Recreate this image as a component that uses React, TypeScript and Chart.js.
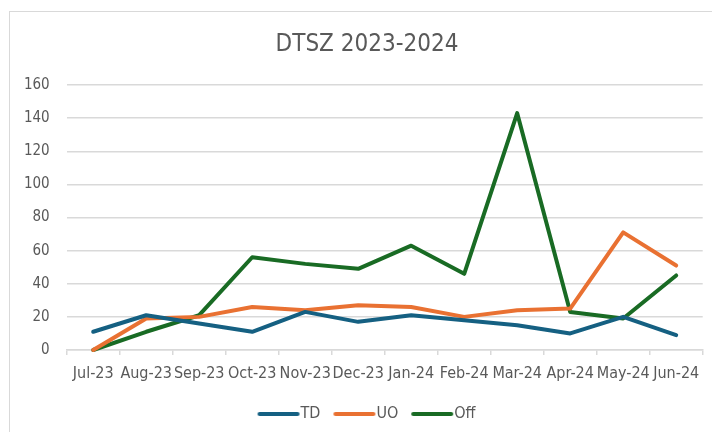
import React, { useEffect, useRef } from "react";
import { Chart, registerables } from "chart.js";

Chart.register(...registerables);

const months = ["Jul-23", "Aug-23", "Sep-23", "Oct-23", "Nov-23", "Dec-23", "Jan-24", "Feb-24", "Mar-24", "Apr-24", "May-24", "Jun-24"];
const td = [11, 21, 16, 11, 23, 17, 21, 18, 15, 10, 20, 9];
const uo = [0, 19, 20, 26, 24, 27, 26, 20, 24, 25, 71, 51];
const off = [0, 11, 21, 56, 52, 49, 63, 46, 143, 23, 19, 45];
const yTicks = [0, 20, 40, 60, 80, 100, 120, 140, 160];

const FONT = "'Liberation Sans Narrow', 'DejaVu Sans Condensed', 'Roboto', sans-serif";
const TXT = "#595959";
const GRID = "#d9d9d9";

// legend swatch: a thick round-capped line, placed so the label text follows it closely
function swatch(color: string): HTMLCanvasElement {
  const c = document.createElement("canvas");
  c.width = 84;
  c.height = 8;
  const g = c.getContext("2d")!;
  g.strokeStyle = color;
  g.lineWidth = 4;
  g.lineCap = "round";
  g.beginPath();
  g.moveTo(26, 4);
  g.lineTo(64, 4);
  g.stroke();
  return c;
}

export default function App() {
  const ref = useRef<HTMLCanvasElement | null>(null);
  useEffect(() => {
    if (!ref.current) return;
    const mk = (label: string, data: number[], color: string) => ({
      label,
      data,
      borderColor: color,
      backgroundColor: color,
      borderWidth: 4,
      borderCapStyle: "round" as const,
      borderJoinStyle: "round" as const,
      pointRadius: 0,
      pointHoverRadius: 0,
      tension: 0,
      clip: false as const,
      pointStyle: swatch(color) as any,
    });
    const chart = new Chart(ref.current, {
      type: "line",
      data: {
        labels: months,
        datasets: [mk("TD", td, "#156082"), mk("UO", uo, "#E97132"), mk("Off", off, "#196B24")],
      },
      options: {
        animation: false,
        responsive: false,
        maintainAspectRatio: false,
        layout: { padding: { left: 0, right: 0, top: 0, bottom: 0 } },
        plugins: {
          tooltip: { enabled: false },
          title: {
            display: true,
            text: "DTSZ 2023-2024",
            color: TXT,
            font: { family: FONT, size: 24, weight: "normal" },
            padding: { top: 18.6, bottom: 25.6 },
          },
          legend: {
            position: "bottom",
            labels: {
              usePointStyle: true,
              pointStyleWidth: 34,
              color: TXT,
              font: { family: FONT, size: 16 },
              padding: 14,
            },
          },
        },
        scales: {
          x: {
            offset: true,
            afterFit: (s: any) => { s.height = 42; },
            grid: { display: true, drawOnChartArea: false, drawTicks: true, tickLength: 5, offset: true, color: GRID, lineWidth: 1.5 },
            border: { display: true, color: GRID, width: 1.5 },
            ticks: { color: TXT, font: { family: FONT, size: 16 }, autoSkip: false, maxRotation: 0, minRotation: 0, padding: 9 },
          },
          y: {
            min: 0,
            max: 160,
            afterBuildTicks: (s: any) => { s.ticks = yTicks.map((v) => ({ value: v })); },
            afterFit: (s: any) => { s.width = 56.7; },
            grid: { color: GRID, lineWidth: 1.5, drawTicks: false },
            border: { display: false },
            ticks: { color: TXT, font: { family: FONT, size: 15 }, padding: 17 },
          },
          yRightSpace: {
            type: "linear",
            position: "right",
            display: true,
            afterFit: (s: any) => { s.width = 21.3; },
            grid: { display: false, drawTicks: false },
            border: { display: false },
            ticks: { display: false },
          },
        },
      },
    });
    return () => chart.destroy();
  }, []);
  return (
    <div style={{ position: "fixed", left: 0, top: 0, width: 712, height: 432, background: "#fff", overflow: "hidden" }}>
      <div style={{ position: "absolute", left: 9, top: 11, width: 720, height: 440, border: "1.5px solid #d9d9d9", boxSizing: "border-box" }} />
      <canvas ref={ref} width={714} height={420} style={{ position: "absolute", left: 10, top: 12, width: 714, height: 420 }} />
    </div>
  );
}
